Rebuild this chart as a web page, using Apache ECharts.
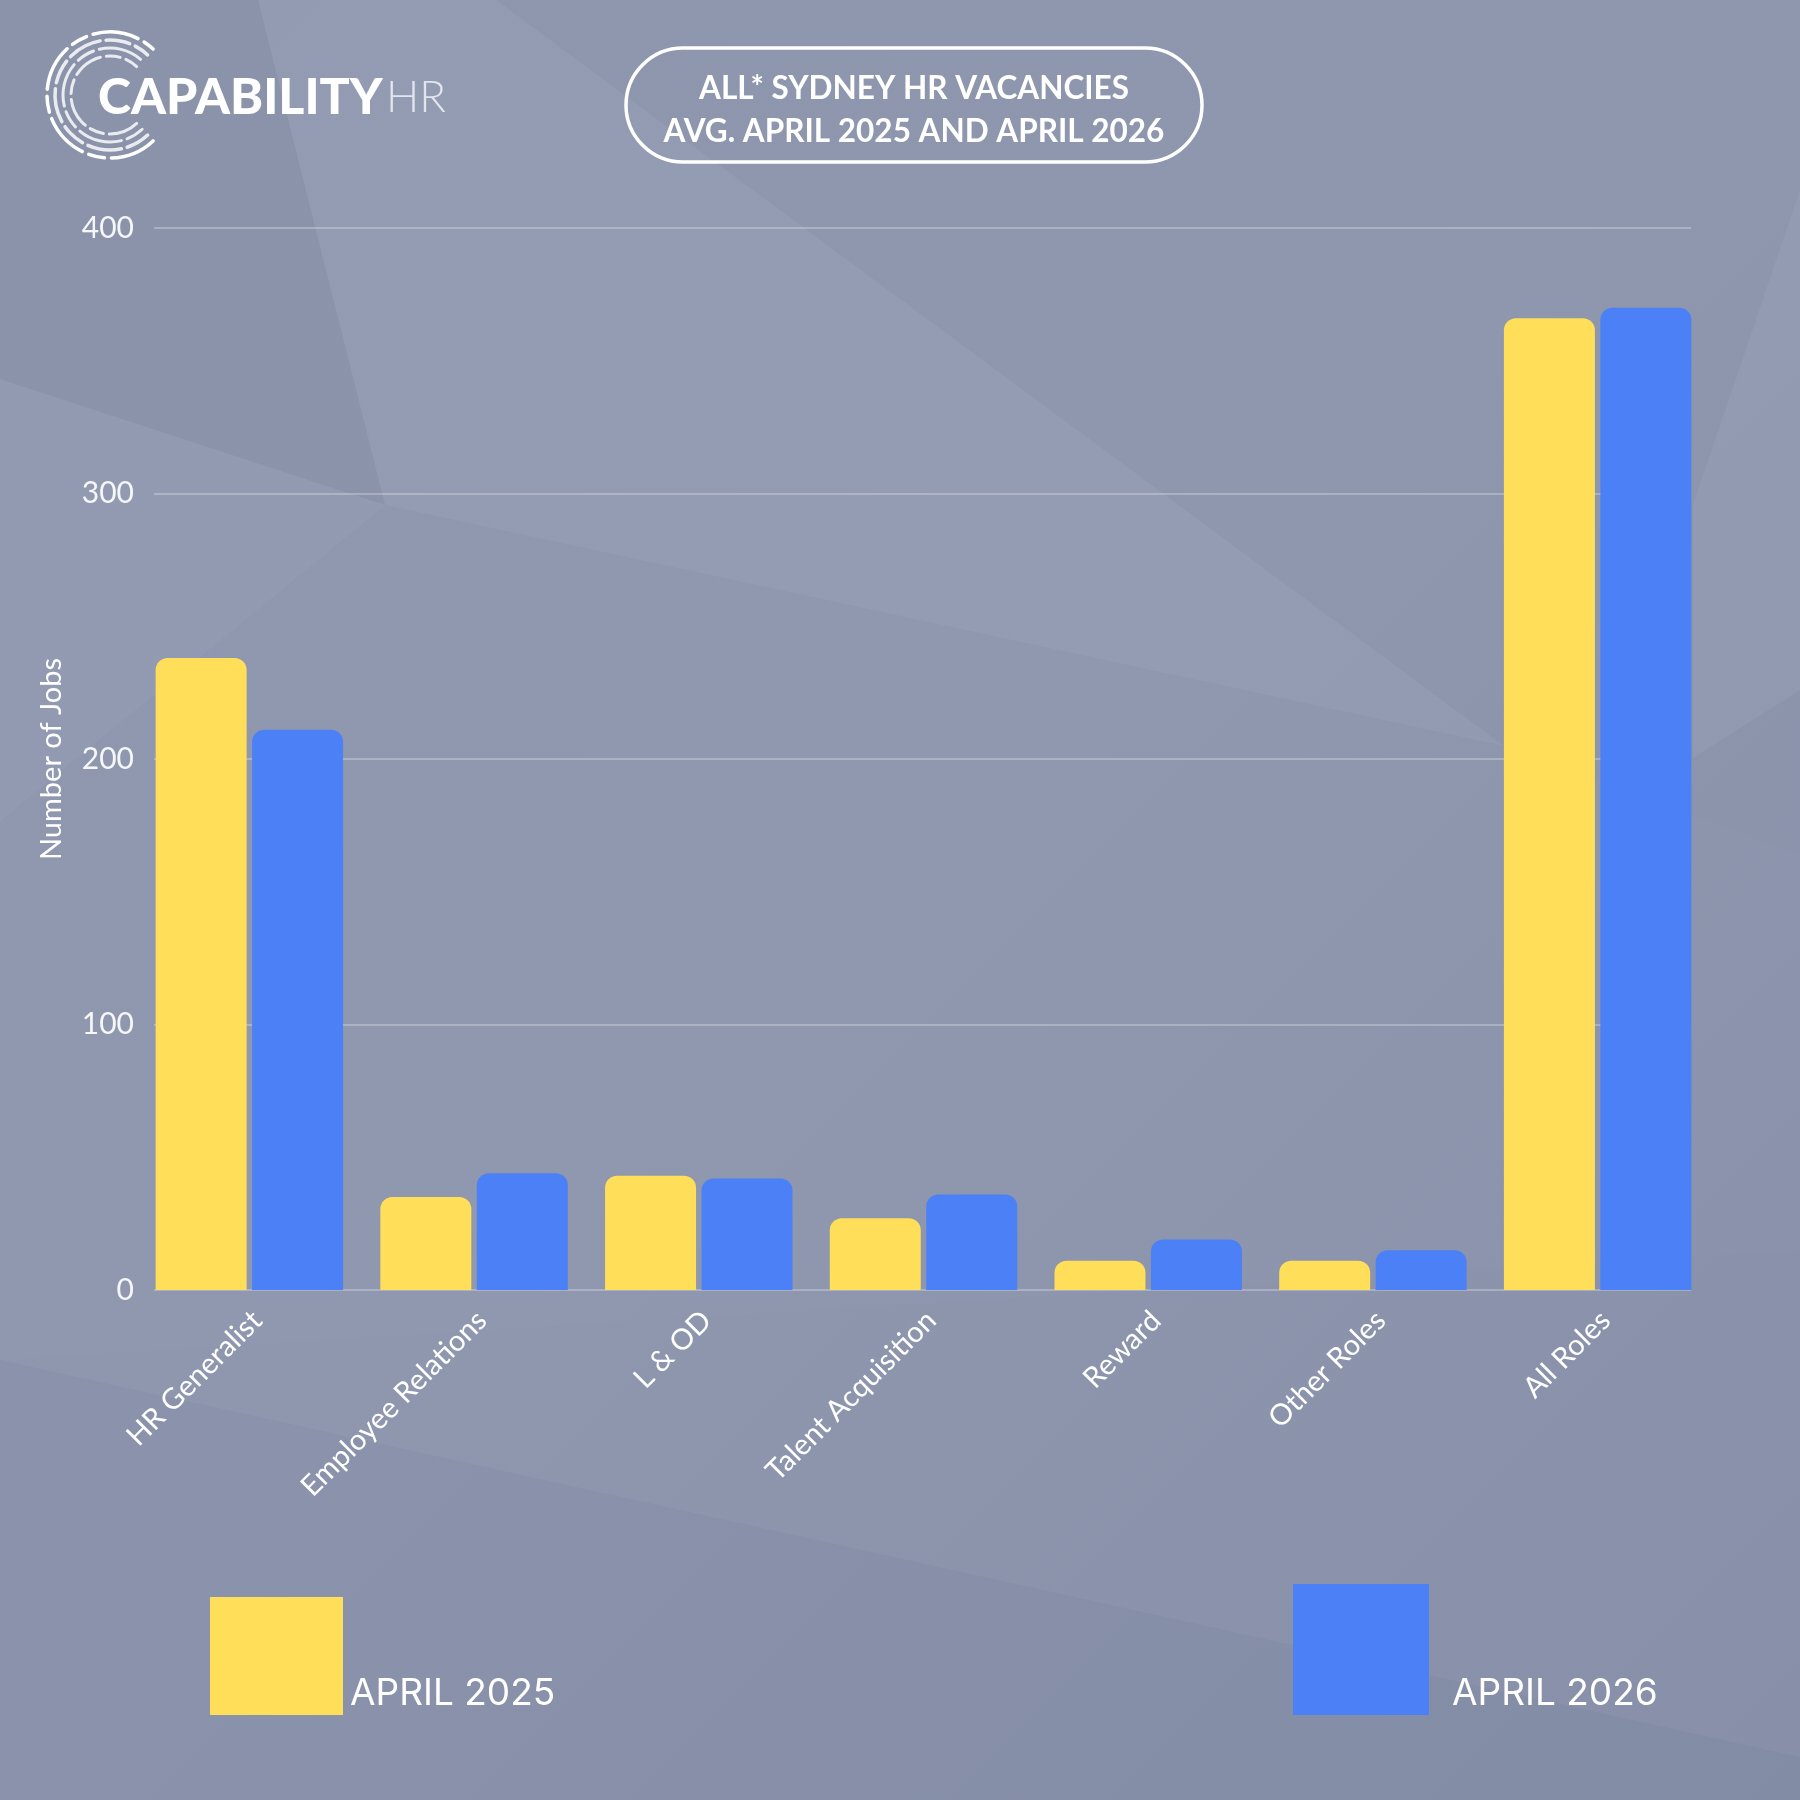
<!DOCTYPE html>
<html>
<head>
<meta charset="utf-8">
<script src="https://cdn.jsdelivr.net/npm/echarts@6/dist/echarts.min.js"></script>
<style>
html, body { margin: 0; padding: 0; }
#main { width: 1800px; height: 1800px; }
</style>
</head>
<body>
<div id="main"></div>
<script>
var categories = ['HR Generalist', 'Employee Relations', 'L & OD', 'Talent Acquisition', 'Reward', 'Other Roles', 'All Roles'];
var april2025 = [238, 35, 43, 27, 11, 11, 366];
var april2026 = [211, 44, 42, 36, 19, 15, 370];
var yTicks = [0, 100, 200, 300, 400];

var chartDom = document.getElementById('main');
var myChart = echarts.init(chartDom, null, { renderer: 'canvas' });

var YELLOW = '#FFDE59';
var BLUE = '#4B80F6';
var TEXT = '#FFFFFF';

// faint facets of the background
var facets = [
	{ pts: [[258, 0], [496, 0], [1504, 746], [385, 505]], fill: 'rgba(255,255,255,0.05)' },
	{ pts: [[0, 0], [258, 0], [385, 505], [0, 379]], fill: 'rgba(60,70,100,0.03)' },
	{ pts: [[0, 379], [385, 505], [0, 821]], fill: 'rgba(255,255,255,0.045)' },
	{ pts: [[385, 505], [1504, 746], [1800, 855], [1800, 1250], [0, 1360], [0, 821]], fill: 'rgba(255,255,255,0.015)' },
	{ pts: [[0, 1360], [1800, 1757], [1800, 1800], [0, 1800]], fill: 'rgba(50,60,90,0.04)' },
	{ pts: [[1800, 190], [1693, 505], [1693, 758], [1800, 690]], fill: 'rgba(255,255,255,0.05)' }
];

var graphics = [];
facets.forEach(function(f) {
	graphics.push({
		type : 'polygon',
		z : -10,
		silent : true,
		shape : { points : f.pts },
		style : { fill : f.fill }
	});
});

// logo rings
var rings = [
	{ r : 63, dash : [46, 7, 16, 7], w : 3.5 },
	{ r : 55, dash : [24, 6, 34, 6], w : 3.5 },
	{ r : 47, dash : [18, 6, 44, 6], w : 3 },
	{ r : 39, dash : [30, 6, 14, 6], w : 3 }
];
rings.forEach(function(g, i) {
	graphics.push({
		type : 'arc',
		silent : true,
		shape : { cx : 110, cy : 95, r : g.r, startAngle : Math.PI * 0.26, endAngle : Math.PI * 1.74, clockwise : true },
		style : { stroke : i == 0 ? '#ffffff' : 'rgba(255,255,255,0.82)', lineWidth : g.w, fill : null, lineDash : g.dash, lineCap : 'round' }
	});
});
graphics.push({
	type : 'text', left : 98, top : 73, silent : true,
	style : { text : 'CAPABILITY', fill : '#ffffff', font : '900 50px Lato' }
});
graphics.push({
	type : 'text', left : 386, top : 76, silent : true,
	style : { text : 'HR', fill : 'rgba(240,242,248,0.85)', font : '300 44px Lato' }
});

// title pill
graphics.push({
	type : 'rect', silent : true,
	shape : { x : 626, y : 48, width : 576, height : 114, r : 57 },
	style : { fill : null, stroke : '#ffffff', lineWidth : 3.5 }
});

option = {
	backgroundColor : {
		type : 'linear', x : 0, y : 0, x2 : 1, y2 : 1,
		colorStops : [
			{ offset : 0, color : '#8D96AD' },
			{ offset : 0.5, color : '#8E97AE' },
			{ offset : 1, color : '#8790A8' }
		]
	},
	textStyle : { fontFamily : 'Lato' },
	title : {
		text : 'ALL* SYDNEY HR VACANCIES\nAVG. APRIL 2025 AND APRIL 2026',
		left : 914,
		top : 67,
		padding : 0,
		textAlign : 'center',
		textStyle : {
			color : TEXT,
			fontFamily : 'Lato',
			fontWeight : 'bold',
			fontSize : 31.5,
			lineHeight : 43
		}
	},
	graphic : graphics,
	legend : [{
		data : ['APRIL 2025'],
		left : 210,
		top : 1597,
		padding : 0,
		icon : 'rect',
		itemWidth : 133,
		itemHeight : 118,
		formatter : '{t|{name}}',
		textStyle : {
			rich : { t : { color : TEXT, fontSize : 37, fontFamily : 'Inter', padding : [75, 0, 0, 2] } }
		}
	}, {
		data : ['APRIL 2026'],
		left : 1293,
		top : 1584,
		padding : 0,
		icon : 'rect',
		itemWidth : 136,
		itemHeight : 131,
		formatter : '{t|{name}}',
		textStyle : {
			rich : { t : { color : TEXT, fontSize : 37, fontFamily : 'Inter', padding : [88, 0, 0, 18] } }
		}
	}],
	grid : [{
		// bars
		left : 137, right : 90, top : 228, bottom : 510
	}, {
		// gridlines and value labels
		left : 154, right : 109, top : 228, bottom : 510
	}],
	xAxis : [{
		type : 'category',
		gridIndex : 0,
		data : categories,
		axisLine : { show : false },
		axisTick : { show : false },
		axisLabel : {
			rotate : 45,
			margin : 18,
			formatter : '{c|{value}}',
			rich : { c : { color : TEXT, fontSize : 29, fontFamily : 'Lato', padding : [22, 0, 0, 0] } }
		}
	}, {
		type : 'value',
		gridIndex : 1,
		show : false
	}],
	yAxis : [{
		type : 'value',
		gridIndex : 0,
		min : yTicks[0],
		max : yTicks[yTicks.length - 1],
		interval : 100,
		axisLabel : { show : false },
		splitLine : { show : false },
		axisLine : { show : false },
		axisTick : { show : false }
	}, {
		type : 'value',
		gridIndex : 1,
		min : yTicks[0],
		max : yTicks[yTicks.length - 1],
		interval : 100,
		name : 'Number of Jobs',
		nameLocation : 'middle',
		nameRotate : 90,
		nameGap : 88,
		nameTextStyle : { color : TEXT, fontSize : 29, fontFamily : 'Lato' },
		axisLine : { show : false },
		axisTick : { show : false },
		axisLabel : { color : 'rgba(255,255,255,0.92)', fontSize : 30, fontFamily : 'Lato', margin : 20 },
		splitLine : { lineStyle : { color : 'rgba(255,255,255,0.35)', width : 1.5 } }
	}],
	series : [{
		name : 'APRIL 2025',
		type : 'bar',
		xAxisIndex : 0,
		yAxisIndex : 0,
		data : april2025,
		barWidth : 91,
		barGap : '6%',
		itemStyle : { color : YELLOW, borderRadius : [12, 12, 0, 0] }
	}, {
		name : 'APRIL 2026',
		type : 'bar',
		xAxisIndex : 0,
		yAxisIndex : 0,
		data : april2026,
		barWidth : 91,
		barGap : '6%',
		itemStyle : { color : BLUE, borderRadius : [12, 12, 0, 0] }
	}]
};

option && myChart.setOption(option);
</script>
</body>
</html>
